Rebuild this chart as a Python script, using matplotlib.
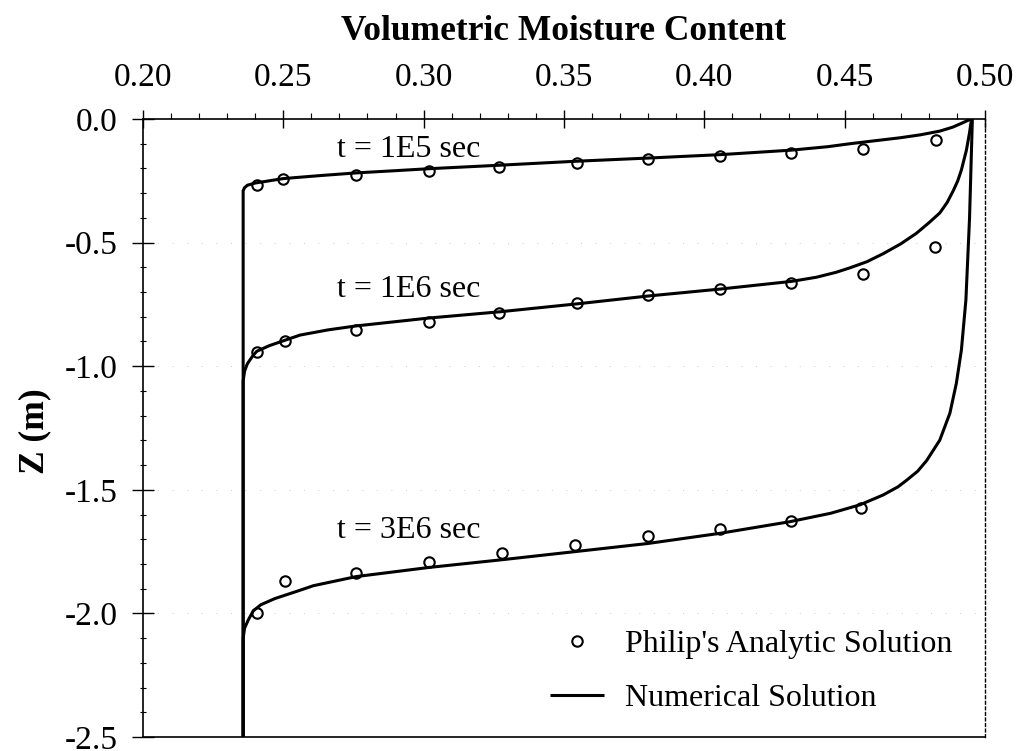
import matplotlib
matplotlib.use("Agg")
import matplotlib.pyplot as plt
from matplotlib.ticker import MultipleLocator, FormatStrFormatter

plt.rcParams['font.family'] = ['Liberation Serif', 'DejaVu Serif']

# ---- Numerical solution curves (theta, z) ----
num_1e5_theta = [0.2357, 0.2357, 0.2362, 0.2372, 0.2400, 0.2450, 0.2500, 0.2630, 0.2760,
                 0.2900, 0.3020, 0.3270, 0.3540, 0.3800, 0.4060, 0.4310, 0.4440, 0.4519,
                 0.4600, 0.4697, 0.4770, 0.4839, 0.4885, 0.4915, 0.4950]
num_1e5_z = [-2.50, -0.290, -0.278, -0.268, -0.259, -0.250, -0.241, -0.229, -0.218,
             -0.209, -0.201, -0.187, -0.171, -0.158, -0.144, -0.126, -0.112, -0.100,
             -0.089, -0.076, -0.064, -0.049, -0.033, -0.018, 0.000]

num_1e6_theta = [0.2357, 0.2357, 0.2362, 0.2372, 0.2390, 0.2405, 0.2450, 0.2506, 0.2560,
                 0.2660, 0.2760, 0.3020, 0.3270, 0.3545, 0.3800, 0.4056, 0.4310, 0.4400,
                 0.4470, 0.4519, 0.4580, 0.4637, 0.4700, 0.4756, 0.4800, 0.4839, 0.4865,
                 0.4887, 0.4903, 0.4916, 0.4934, 0.4945, 0.4952]
num_1e6_z = [-2.50, -1.060, -1.020, -0.990, -0.960, -0.940, -0.917, -0.895, -0.874,
             -0.853, -0.837, -0.805, -0.780, -0.748, -0.716, -0.688, -0.657, -0.640,
             -0.620, -0.602, -0.577, -0.545, -0.505, -0.462, -0.420, -0.380, -0.338,
             -0.290, -0.250, -0.206, -0.125, -0.055, 0.000]

num_3e6_theta = [0.2357, 0.2357, 0.2362, 0.2375, 0.2393, 0.2420, 0.2470, 0.2550, 0.2607,
                 0.2760, 0.3020, 0.3270, 0.3540, 0.3800, 0.4056, 0.4305, 0.4450, 0.4554,
                 0.4637, 0.4690, 0.4720, 0.4760, 0.4792, 0.4839, 0.4875, 0.4898, 0.4916,
                 0.4932, 0.4945, 0.4955]
num_3e6_z = [-2.50, -2.100, -2.060, -2.027, -1.990, -1.965, -1.940, -1.910, -1.888,
             -1.851, -1.814, -1.784, -1.750, -1.717, -1.676, -1.629, -1.595, -1.561,
             -1.521, -1.488, -1.462, -1.425, -1.382, -1.299, -1.190, -1.069, -0.934,
             -0.732, -0.400, 0.000]

# ---- Philip's analytic solution (circles) ----
phil_1e5_theta = [0.2405, 0.2500, 0.2759, 0.3020, 0.3270, 0.3545, 0.3800, 0.4056, 0.4310, 0.4564, 0.4825]
phil_1e5_z = [-0.267, -0.244, -0.227, -0.209, -0.193, -0.177, -0.162, -0.150, -0.139, -0.123, -0.085]

phil_1e6_theta = [0.2405, 0.2506, 0.2760, 0.3020, 0.3270, 0.3545, 0.3800, 0.4056, 0.4310, 0.4564, 0.4823]
phil_1e6_z = [-0.941, -0.898, -0.854, -0.820, -0.784, -0.743, -0.712, -0.689, -0.665, -0.627, -0.519]

phil_3e6_theta = [0.2407, 0.2506, 0.2760, 0.3020, 0.3280, 0.3540, 0.3800, 0.4056, 0.4310, 0.4560]
phil_3e6_z = [-2.000, -1.868, -1.838, -1.793, -1.757, -1.723, -1.686, -1.660, -1.628, -1.573]

time_labels = ["t = 1E5 sec", "t = 1E6 sec", "t = 3E6 sec"]
label_theta = [0.2692, 0.2692, 0.2692]
label_z = [-0.152, -0.719, -1.694]

fig = plt.figure(figsize=(10.24, 7.51), dpi=100)
ax = fig.add_axes([0.1396, 0.01864, 0.8223, 0.8229])

lw = 2.2
ms = 7.5
line_kw = dict(color='black', lw=lw, solid_capstyle='butt', solid_joinstyle='round', zorder=3)
mark_kw = dict(ls='none', marker='o', ms=ms, mfc='none', mec='black', mew=1.5, zorder=4)

ax.plot(num_1e5_theta, num_1e5_z, label='Numerical Solution', **line_kw)
ax.plot(num_1e6_theta, num_1e6_z, **line_kw)
ax.plot(num_3e6_theta, num_3e6_z, **line_kw)
ax.plot(phil_1e5_theta, phil_1e5_z, label="Philip's Analytic Solution", **mark_kw)
ax.plot(phil_1e6_theta, phil_1e6_z, **mark_kw)
ax.plot(phil_3e6_theta, phil_3e6_z, **mark_kw)

for txt, tx, tz in zip(time_labels, label_theta, label_z):
    ax.text(tx, tz, txt, fontsize=23, ha='left', va='baseline')

ax.set_xlim(0.20, 0.50)
ax.set_ylim(-2.5, 0.0)

ax.xaxis.tick_top()
ax.xaxis.set_label_position('top')
ax.xaxis.set_major_locator(MultipleLocator(0.05))
ax.xaxis.set_minor_locator(MultipleLocator(0.01))
ax.xaxis.set_major_formatter(FormatStrFormatter('%.2f'))
ax.yaxis.set_major_locator(MultipleLocator(0.5))
ax.yaxis.set_minor_locator(MultipleLocator(0.1))
ax.yaxis.set_major_formatter(FormatStrFormatter('%.1f'))

ax.tick_params(axis='x', which='major', direction='inout', length=13, width=1.0,
               labelsize=24, pad=12, top=True, bottom=False)
ax.tick_params(axis='x', which='minor', direction='out', length=4, width=0.8, top=True, bottom=False)
ax.tick_params(axis='y', which='major', direction='inout', length=16, width=1.0,
               labelsize=24, pad=10, right=False)
ax.tick_params(axis='y', which='minor', direction='inout', length=4, width=0.8, right=False)

for s in ['left', 'top', 'bottom']:
    ax.spines[s].set_linewidth(1.2)
ax.spines['right'].set_linewidth(1.0)
ax.spines['right'].set_linestyle((0, (2, 2)))

ax.set_xlabel('Volumetric Moisture Content', fontsize=25.5, fontweight='bold')
ax.xaxis.set_label_coords(0.5, 1.141)
ax.xaxis.label.set_va('center')
ax.set_ylabel('Z (m)', fontsize=25.5, fontweight='bold')
ax.yaxis.set_label_coords(-0.128, 0.495)
ax.yaxis.label.set_va('center')

# faint dotted grid
for gz in [-0.5, -1.0, -1.5, -2.0]:
    ax.axhline(gz, color='0.8', lw=0.7, ls=(0, (1, 14)), zorder=1)

h, l = ax.get_legend_handles_labels()
order = [1, 0]
leg = ax.legend([h[i] for i in order], [l[i] for i in order], loc='upper left',
                bbox_to_anchor=(0.4834, 0.1731), frameon=False, fontsize=23,
                handlelength=1.69, handletextpad=0.66, borderpad=0, borderaxespad=0,
                labelspacing=0.75, numpoints=1)

fig.savefig('out.png', dpi=100)
